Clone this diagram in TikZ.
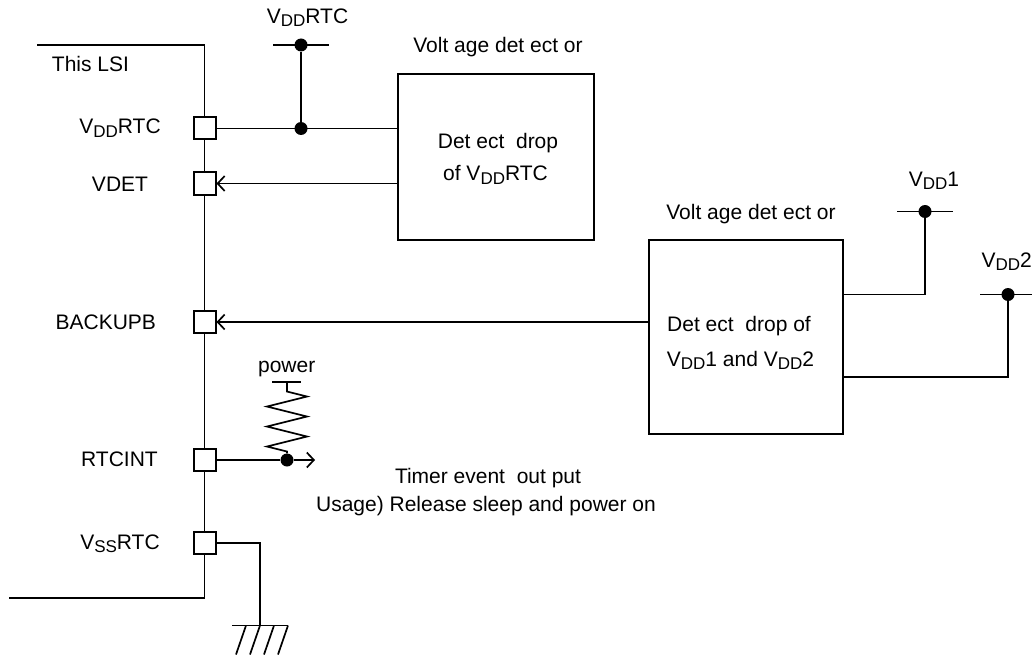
\documentclass[tikz,border=0pt]{standalone}
\usepackage{fontspec}
\setmainfont{Liberation Sans}
\usetikzlibrary{arrows.meta,calc}
\newcommand{\lowtxt}[1]{\raisebox{-0.17em}{\fontsize{17}{17}\selectfont #1}}
\begin{document}
\begin{tikzpicture}[
                    x=1pt, y=-1pt,
                    font=\fontsize{21}{25}\selectfont,
                    wire/.style={line width=1.7pt, line join=miter},
                    pad/.style={draw, line width=2pt, fill=white, minimum width=22pt, minimum height=22pt, inner sep=0pt},
                    detbox/.style={draw, line width=1.7pt, anchor=north west, inner sep=0pt},
                    dot/.style={circle, fill=black, inner sep=0pt, minimum size=13pt},
                    txt/.style={inner sep=0pt, anchor=base},
                    intip/.style={wire, -{Straight Barb[length=7pt,width=15pt,line width=1.7pt]}}
                ]
                \useasboundingbox (0,0) rectangle (1032,655);

                % LSI outline
                \coordinate (lsiA) at (37,45);
                \coordinate (lsiB) at (204.5,45);
                \coordinate (lsiC) at (204.5,598);
                \coordinate (lsiD) at (9,598);
                \draw[wire] (lsiA) -- (lsiB) -- (lsiC) -- (lsiD);
                \node[txt] (lsi) at (90.5,71.7) {This LSI};

                % pads
                \node[pad] (pad1) at (204.5,128.5) {};
                \node[pad] (pad2) at (204.5,183.5) {};
                \node[pad] (pad3) at (204.5,322) {};
                \node[pad] (pad4) at (204.5,460) {};
                \node[pad] (pad5) at (204.5,543) {};
                \node[txt] (lab1) at (120,133.5) {V\lowtxt{DD}RTC};
                \node[txt] (lab2) at (120,191.7) {VDET};
                \node[txt] (lab3) at (105.8,329) {BACKUPB};
                \node[txt] (lab4) at (119.5,466.7) {RTCINT};
                \node[txt] (lab5) at (120,549.3) {V\lowtxt{SS}RTC};

                % detector 1
                \node[detbox, minimum width=196pt, minimum height=166pt] (det1) at (397,73) {};
                \node[txt] (det1t) at (498,53) {Volt age det ect or};
                \node[txt] (det1a) at (498,149) {Det ect\ \ drop};
                \node[txt] (det1b) at (495.5,180.7) {of V\lowtxt{DD}RTC};

                % supply of detector 1
                \node[dot] (nod1) at (301,128.5) {};
                \node[dot] (nod2) at (301,45) {};
                \coordinate (bar1a) at (273,45);
                \coordinate (bar1b) at (329,45);
                \node[txt] (sup1) at (307.5,23.3) {V\lowtxt{DD}RTC};
                \draw[wire] (bar1a) -- (bar1b);
                \draw[wire] (nod2) -- (nod1);
                \draw[wire] (pad1) -- (det1.west |- pad1);
                \draw[intip] (det1.west |- pad2) -- (pad2.east);

                % detector 2
                \node[detbox, minimum width=194pt, minimum height=194pt] (det2) at (648,239) {};
                \node[txt] (det2t) at (751,219.3) {Volt age det ect or};
                \node[txt] (det2a) at (739,331.7) {Det ect\ \ drop of};
                \node[txt] (det2b) at (740.5,366) {V\lowtxt{DD}1 and V\lowtxt{DD}2};
                \draw[intip] (det2.west |- pad3) -- (pad3.east);

                % supplies of detector 2
                \node[dot] (nod3) at (925,211.5) {};
                \node[dot] (nod4) at (1008,294.5) {};
                \coordinate (bar3a) at (897,211.5);
                \coordinate (bar3b) at (953,211.5);
                \coordinate (bar4a) at (980,294.5);
                \coordinate (bar4b) at (1032,294.5);
                \node[txt] (sup3) at (934,186) {V\lowtxt{DD}1};
                \node[txt] (sup4) at (1006.7,267.3) {V\lowtxt{DD}2};
                \draw[wire] (bar3a) -- (bar3b);
                \draw[wire] (bar4a) -- (bar4b);
                \draw[wire] (det2.east |- nod4) -- (nod4 -| nod3) -- (nod3);
                \coordinate (out2) at (842,377);
                \draw[wire] (out2) -- (out2 -| nod4) -- (nod4);

                % pull up and timer output
                \node[dot] (nod5) at (287,460) {};
                \coordinate (out1) at (315,460);
                \coordinate (rtop) at (287,382);
                \coordinate (rbara) at (272,382);
                \coordinate (rbarb) at (301,382);
                \node[txt] (pwr) at (286.7,372.7) {power};
                \draw[wire] (rbara) -- (rbarb);
                \draw[wire] (rtop) -- ++(0,9.5) -- ++(20,5) -- ++(-40,10) -- ++(40,10) -- ++(-40,10) -- ++(40,10) -- ++(-40,10) -- ++(20,5) -- (nod5);
                \draw[wire] (pad4) -- (nod5);
                \draw[intip] (nod5) -- (out1);
                \node[txt] (evt1) at (488,483) {Timer event\ \ out put};
                \node[txt] (evt2) at (486,511) {Usage) Release sleep and power on};

                % ground
                \coordinate (gnd) at (260,625.5);
                \coordinate (gndl) at (232,625.5);
                \coordinate (gndr) at (288,625.5);
                \draw[wire] (pad5) -| (gnd);
                \draw[wire] (gndl) -- (gndr);
                \foreach \i in {0,1,2,3} {
                    \draw[wire] ($(gndr)+(-\i*14,0)$) -- ++(-10,29);
                }

            \end{tikzpicture}
\end{document}
